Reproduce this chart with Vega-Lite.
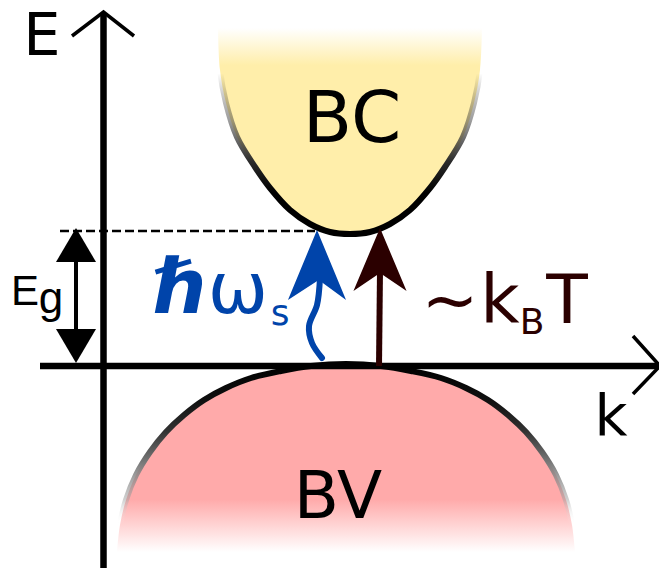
{
  "$schema": "https://vega.github.io/schema/vega-lite/v6.json",
  "width": 659,
  "height": 568,
  "autosize": {"type": "none"},
  "padding": 0,
  "background": "white",
  "config": {"view": {"stroke": null}},
  "datasets": {
    "bc": [
      {"x": 218, "y": 28}, {"x": 220, "y": 70}, {"x": 226, "y": 103}, {"x": 237, "y": 137},
      {"x": 255, "y": 167}, {"x": 270, "y": 188}, {"x": 290, "y": 210}, {"x": 310, "y": 224},
      {"x": 330, "y": 232}, {"x": 350, "y": 234}, {"x": 370, "y": 232}, {"x": 390, "y": 224},
      {"x": 410, "y": 210}, {"x": 430, "y": 188}, {"x": 445, "y": 167}, {"x": 463, "y": 137},
      {"x": 474, "y": 103}, {"x": 480, "y": 70}, {"x": 482, "y": 28}
    ],
    "bv": [
      {"x": 117, "y": 552}, {"x": 120, "y": 525}, {"x": 126, "y": 500}, {"x": 136, "y": 475},
      {"x": 150, "y": 452}, {"x": 166, "y": 432}, {"x": 184, "y": 415}, {"x": 204, "y": 400},
      {"x": 226, "y": 388}, {"x": 251, "y": 378}, {"x": 281, "y": 371}, {"x": 311, "y": 366},
      {"x": 346, "y": 364},
      {"x": 381, "y": 366}, {"x": 411, "y": 371}, {"x": 441, "y": 378}, {"x": 466, "y": 388},
      {"x": 488, "y": 400}, {"x": 508, "y": 415}, {"x": 526, "y": 432}, {"x": 542, "y": 452},
      {"x": 556, "y": 475}, {"x": 566, "y": 500}, {"x": 572, "y": 525}, {"x": 575, "y": 552}
    ],
    "axes": [
      {"id": "v", "o": 0, "x": 103.5, "y": 13}, {"id": "v", "o": 1, "x": 103.5, "y": 568},
      {"id": "h", "o": 0, "x": 40, "y": 366}, {"id": "h", "o": 1, "x": 659, "y": 366}
    ],
    "chevrons": [
      {"id": "top", "o": 0, "x": 72, "y": 36}, {"id": "top", "o": 1, "x": 103.5, "y": 12}, {"id": "top", "o": 2, "x": 134, "y": 36},
      {"id": "right", "o": 0, "x": 633, "y": 336}, {"id": "right", "o": 1, "x": 660, "y": 366}, {"id": "right", "o": 2, "x": 633, "y": 394}
    ],
    "dash": [{"x": 60, "y": 231}, {"x": 315, "y": 231}],
    "egshaft": [{"x": 76, "y": 255}, {"x": 76, "y": 338}],
    "egup": [{"x": 76, "y": 245}],
    "egdown": [{"x": 76, "y": 346}],
    "wave": [
      {"o": 0, "x": 320, "y": 278}, {"o": 1, "x": 317, "y": 305}, {"o": 2, "x": 309, "y": 326},
      {"o": 3, "x": 312, "y": 343}, {"o": 4, "x": 322, "y": 358}
    ],
    "bluehead": [{"x": 317, "y": 265}],
    "brownshaft": [{"x": 380, "y": 270}, {"x": 379, "y": 366}],
    "brownhead": [{"x": 380, "y": 260}]
  },
  "encoding": {
    "x": {"field": "x", "type": "quantitative", "scale": {"domain": [0, 659], "nice": false, "zero": false}, "axis": null},
    "y": {"field": "y", "type": "quantitative", "scale": {"domain": [0, 568], "reverse": true, "nice": false, "zero": false}, "axis": null}
  },
  "layer": [
    {
      "data": {"name": "bc"},
      "mark": {"type": "area", "interpolate": "catmull-rom", "fill": {"gradient": "linear", "x1": 0, "y1": 0, "x2": 0, "y2": 1, "stops": [{"offset": 0, "color": "#ffffff"}, {"offset": 0.18, "color": "#ffeeaa"}, {"offset": 1, "color": "#ffeeaa"}]}},
      "encoding": {"y2": {"datum": 28}}
    },
    {
      "data": {"name": "bc"},
      "mark": {"type": "line", "interpolate": "catmull-rom", "strokeWidth": 6, "stroke": {"gradient": "linear", "x1": 0, "y1": 0, "x2": 0, "y2": 1, "stops": [{"offset": 0, "color": "rgba(0,0,0,0)"}, {"offset": 0.22, "color": "rgba(0,0,0,0)"}, {"offset": 0.45, "color": "rgba(60,60,60,0.5)"}, {"offset": 0.65, "color": "#2a2a2a"}, {"offset": 0.8, "color": "#000000"}, {"offset": 1, "color": "#000000"}]}}
    },
    {
      "data": {"name": "bv"},
      "mark": {"type": "area", "interpolate": "catmull-rom", "fill": {"gradient": "linear", "x1": 0, "y1": 0, "x2": 0, "y2": 1, "stops": [{"offset": 0, "color": "#ffaaaa"}, {"offset": 0.72, "color": "#ffaaaa"}, {"offset": 1, "color": "#ffffff"}]}},
      "encoding": {"y2": {"datum": 552}}
    },
    {
      "data": {"name": "bv"},
      "mark": {"type": "line", "interpolate": "catmull-rom", "strokeWidth": 6, "stroke": {"gradient": "linear", "x1": 0, "y1": 0, "x2": 0, "y2": 1, "stops": [{"offset": 0, "color": "#000000"}, {"offset": 0.2, "color": "#111111"}, {"offset": 0.36, "color": "#333333"}, {"offset": 0.52, "color": "#777777"}, {"offset": 0.72, "color": "rgba(160,160,160,0.5)"}, {"offset": 0.85, "color": "rgba(255,255,255,0)"}, {"offset": 1, "color": "rgba(255,255,255,0)"}]}}
    },
    {
      "data": {"name": "axes"},
      "mark": {"type": "line", "color": "#000000", "strokeWidth": 6.5},
      "encoding": {"detail": {"field": "id"}, "order": {"field": "o"}}
    },
    {
      "data": {"name": "chevrons"},
      "mark": {"type": "line", "color": "#000000", "strokeWidth": 3.5},
      "encoding": {"detail": {"field": "id"}, "order": {"field": "o"}}
    },
    {
      "data": {"name": "dash"},
      "mark": {"type": "line", "color": "#000000", "strokeWidth": 2.5, "strokeDash": [9, 4]}
    },
    {
      "data": {"name": "egshaft"},
      "mark": {"type": "line", "color": "#000000", "strokeWidth": 4}
    },
    {
      "data": {"name": "egup"},
      "mark": {"type": "point", "shape": "M0,-0.85L1,0.85L-1,0.85Z", "filled": true, "color": "#000000", "opacity": 1, "size": 1600, "strokeWidth": 0}
    },
    {
      "data": {"name": "egdown"},
      "mark": {"type": "point", "shape": "M0,0.85L1,-0.85L-1,-0.85Z", "filled": true, "color": "#000000", "opacity": 1, "size": 1600, "strokeWidth": 0}
    },
    {
      "data": {"name": "wave"},
      "mark": {"type": "line", "color": "#0044aa", "strokeWidth": 6, "interpolate": "catmull-rom", "strokeCap": "round"},
      "encoding": {"order": {"field": "o"}}
    },
    {
      "data": {"name": "bluehead"},
      "mark": {"type": "point", "shape": "M0,-1L0.83,1L0.05,0.43L-0.83,1Z", "filled": true, "color": "#0044aa", "opacity": 1, "size": 4900, "strokeWidth": 0}
    },
    {
      "data": {"name": "brownshaft"},
      "mark": {"type": "line", "color": "#2b0000", "strokeWidth": 6}
    },
    {
      "data": {"name": "brownhead"},
      "mark": {"type": "point", "shape": "M0,-1L0.83,0.97L0,0.41L-0.83,0.97Z", "filled": true, "color": "#2b0000", "opacity": 1, "size": 4096, "strokeWidth": 0}
    },
    {
      "data": {"values": [{"x": 42, "y": 55, "t": "E"}]},
      "mark": {"type": "text", "font": "DejaVu Sans", "fontSize": 59, "align": "center", "baseline": "alphabetic", "color": "#000000"},
      "encoding": {"text": {"field": "t"}}
    },
    {
      "data": {"values": [{"x": 611, "y": 435, "t": "k"}]},
      "mark": {"type": "text", "font": "DejaVu Sans", "fontSize": 57, "align": "center", "baseline": "alphabetic", "color": "#000000"},
      "encoding": {"text": {"field": "t"}}
    },
    {
      "data": {"values": [{"x": 25, "y": 305, "t": "E"}]},
      "mark": {"type": "text", "font": "Liberation Sans", "fontSize": 42, "align": "center", "baseline": "alphabetic", "color": "#000000"},
      "encoding": {"text": {"field": "t"}}
    },
    {
      "data": {"values": [{"x": 51, "y": 313, "t": "g"}]},
      "mark": {"type": "text", "font": "Liberation Sans", "fontSize": 44, "align": "center", "baseline": "alphabetic", "color": "#000000"},
      "encoding": {"text": {"field": "t"}}
    },
    {
      "data": {"values": [{"x": 352, "y": 142, "t": "BC"}]},
      "mark": {"type": "text", "font": "DejaVu Sans", "fontSize": 72, "align": "center", "baseline": "alphabetic", "color": "#000000"},
      "encoding": {"text": {"field": "t"}}
    },
    {
      "data": {"values": [{"x": 338, "y": 518, "t": "BV"}]},
      "mark": {"type": "text", "font": "DejaVu Sans", "fontSize": 66, "align": "center", "baseline": "alphabetic", "color": "#000000"},
      "encoding": {"text": {"field": "t"}}
    },
    {
      "data": {"values": [{"x": 181, "y": 313, "t": "ℏ"}]},
      "mark": {"type": "text", "font": "DejaVu Sans", "fontSize": 76, "fontWeight": "bold", "fontStyle": "italic", "align": "center", "baseline": "alphabetic", "color": "#0044aa"},
      "encoding": {"text": {"field": "t"}}
    },
    {
      "data": {"values": [{"x": 238, "y": 313, "t": "ω"}]},
      "mark": {"type": "text", "font": "DejaVu Sans", "fontSize": 72, "align": "center", "baseline": "alphabetic", "color": "#0044aa"},
      "encoding": {"text": {"field": "t"}}
    },
    {
      "data": {"values": [{"x": 280, "y": 325, "t": "s"}]},
      "mark": {"type": "text", "font": "DejaVu Sans", "fontSize": 36, "align": "center", "baseline": "alphabetic", "color": "#0044aa"},
      "encoding": {"text": {"field": "t"}}
    },
    {
      "data": {"values": [{"x": 450, "y": 323, "t": "~"}, {"x": 500, "y": 323, "t": "k"}, {"x": 567, "y": 323, "t": "T"}]},
      "mark": {"type": "text", "font": "DejaVu Sans", "fontSize": 68, "align": "center", "baseline": "alphabetic", "color": "#2b0000"},
      "encoding": {"text": {"field": "t"}}
    },
    {
      "data": {"values": [{"x": 532, "y": 334, "t": "B"}]},
      "mark": {"type": "text", "font": "DejaVu Sans", "fontSize": 36, "align": "center", "baseline": "alphabetic", "color": "#2b0000"},
      "encoding": {"text": {"field": "t"}}
    }
  ]
}
